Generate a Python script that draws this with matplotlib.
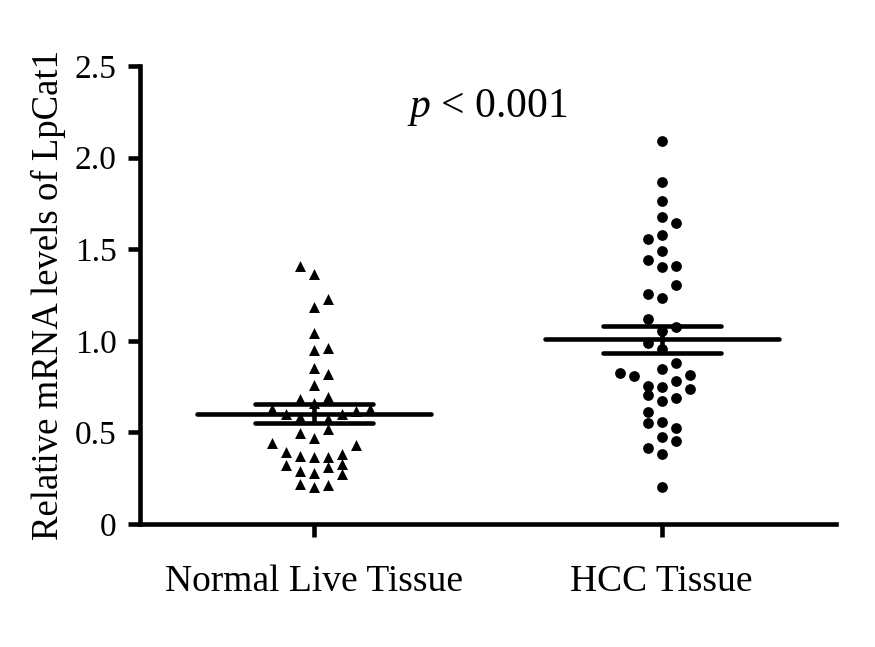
import numpy as np
from matplotlib import pyplot as plt

plt.rcParams['font.family'] = ['Liberation Serif', 'DejaVu Serif']
plt.rcParams['mathtext.fontset'] = 'custom'
plt.rcParams['mathtext.rm'] = 'Liberation Serif'
plt.rcParams['mathtext.it'] = 'Liberation Serif:italic'

groups = ['Normal Live Tissue', 'HCC Tissue']

# values, with the swarm column of each point
normal_vals = [1.408, 1.363, 1.228, 1.183, 1.044, 0.950, 0.959, 0.853, 0.817, 0.760,
               0.682, 0.695, 0.659, 0.626, 0.600, 0.582, 0.571, 0.600, 0.615, 0.626,
               0.498, 0.517, 0.468, 0.444, 0.431, 0.395, 0.371, 0.364, 0.367, 0.382,
               0.320, 0.291, 0.280, 0.309, 0.327, 0.273, 0.217, 0.200, 0.211]
normal_cols = [-1, 0, 1, 0, 0, 0, 1, 0, 1, 0,
               -1, 1, 0, -3, -2, -1, 1, 2, 3, 4,
               -1, 1, 0, -3, 3, -2, -1, 0, 1, 2,
               -2, -1, 0, 1, 2, 2, -1, 0, 1]

hcc_vals = [2.090, 1.867, 1.761, 1.674, 1.645, 1.556, 1.579, 1.492, 1.439, 1.403,
            1.407, 1.305, 1.255, 1.234, 1.117, 1.077, 1.053, 0.986, 0.953, 0.880,
            0.848, 0.826, 0.808, 0.813, 0.753, 0.746, 0.782, 0.735, 0.704, 0.673,
            0.689, 0.613, 0.550, 0.557, 0.522, 0.473, 0.455, 0.413, 0.382, 0.204]
hcc_cols = [0, 0, 0, 0, 1, -1, 0, 0, -1, 0,
            1, 1, -1, 0, -1, 1, 0, -1, 0, 1,
            0, -3, -2, 2, -1, 0, 1, 2, -1, 0,
            1, -1, -1, 0, 1, 0, 1, -1, 0, 0]

yticks = [0, 0.5, 1.0, 1.5, 2.0, 2.5]
ytick_labels = ['0', '0.5', '1.0', '1.5', '2.0', '2.5']
p_text = '$p$ < 0.001'

step = 0.04  # column spacing of the swarm

fig = plt.figure(figsize=(8.75, 6.47), dpi=100)
ax = fig.add_axes([0.16, 0.19, 0.795, 0.708])

ax.scatter(1 + np.array(normal_cols) * step, normal_vals, marker='^', s=62,
           c='black', linewidths=0, zorder=3)
ax.scatter(2 + np.array(hcc_cols) * step, hcc_vals, marker='o', s=60,
           c='black', linewidths=0, zorder=3)

# mean and SEM bars
for pos, vals in [(1, normal_vals), (2, hcc_vals)]:
    v = np.array(vals)
    m = v.mean()
    sem = v.std(ddof=1) / np.sqrt(len(v))
    ax.hlines(m, pos - 0.337, pos + 0.337, colors='black', lw=3.3, capstyle='round', zorder=4)
    ax.hlines([m - sem, m + sem], pos - 0.17, pos + 0.17, colors='black', lw=3.3,
              capstyle='round', zorder=4)
    ax.vlines(pos, m - sem, m + sem, colors='black', lw=3.3, zorder=4)

ax.text(1.5, 2.22, p_text, fontsize=30, ha='center', va='baseline')

ax.set_xlim(0.5, 2.5)
ax.set_ylim(0, 2.5)
ax.set_xticks([1, 2])
ax.set_xticklabels(groups, fontsize=27)
ax.set_yticks(yticks)
ax.set_yticklabels(ytick_labels, fontsize=24)
ax.set_ylabel('Relative mRNA levels of LpCat1', fontsize=26.5, labelpad=6)

for side in ['top', 'right']:
    ax.spines[side].set_visible(False)
for side in ['left', 'bottom']:
    ax.spines[side].set_linewidth(3.3)
ax.tick_params(axis='both', which='major', length=9, width=3.3, direction='out')
ax.tick_params(axis='y', pad=8)
ax.tick_params(axis='x', pad=20)

fig.savefig('out.png', dpi=100)
